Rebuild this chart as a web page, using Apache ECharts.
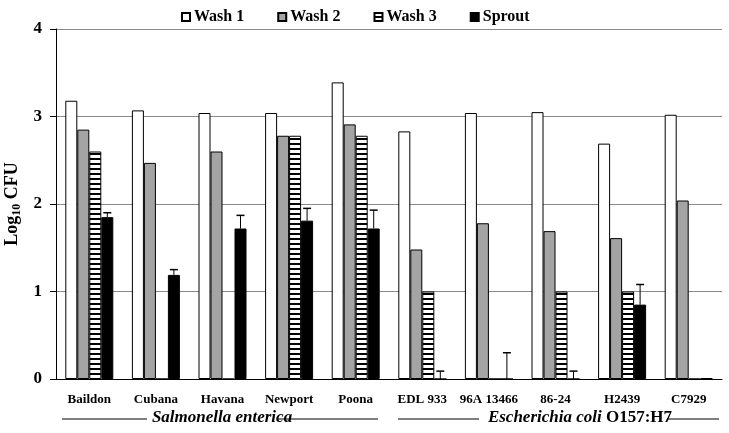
<!DOCTYPE html>
<html><head><meta charset="utf-8">
<script src="https://cdn.jsdelivr.net/npm/echarts@6/dist/echarts.min.js"></script>
<style>html,body{margin:0;padding:0;background:#fff}#c{width:729px;height:433px}</style>
</head><body><div id="c"></div>
<script>
var categories = ['Baildon','Cubana','Havana','Newport','Poona','EDL 933','96A 13466','86-24','H2439','C7929'];
var wash1  = [3.18,3.07,3.04,3.04,3.39,2.83,3.04,3.05,2.69,3.02];
var wash2  = [2.85,2.47,2.60,2.78,2.91,1.48,1.78,1.69,1.61,2.04];
var wash3  = [2.60,0,0,2.78,2.78,1.00,0,1.00,1.00,0];
var sprout = [1.85,1.19,1.72,1.81,1.72,0,0,0,0.85,0.01];
var sproutErrTop = [1.90,1.25,1.87,1.95,1.93,0.09,0.30,0.09,1.08,0.01];
var yTicks = [0,1,2,3,4];

var FONT = '"Liberation Serif","Times New Roman",serif';
var BW = 12;

function stripe(){
  var c = document.createElement('canvas'); c.width = 8; c.height = 5;
  var g = c.getContext('2d'); g.fillStyle = '#fff'; g.fillRect(0,0,8,5);
  g.fillStyle = '#000'; g.fillRect(0,3,8,2);
  return {image:c, repeat:'repeat'};
}
var stripeFill = stripe();

var chart = echarts.init(document.getElementById('c'));
var barBase = {type:'bar', barWidth:BW, barGap:'0%', barCategoryGap:'28%'};
chart.setOption({
  animation:false,
  backgroundColor:'#fff',
  legend:{top:4, left:176, itemWidth:8, itemHeight:8, itemGap:33, icon:'rect',
    textStyle:{fontFamily:FONT, fontWeight:'bold', fontSize:16, color:'#000', padding:[0,0,0,-1]},
    data:['Wash 1','Wash 2','Wash 3','Sprout']},
  grid:{left:56, right:7, top:29, bottom:54, containLabel:false, outerBoundsMode:'none'},
  xAxis:{type:'category', data:categories,
    axisLine:{lineStyle:{color:'#000', width:1}},
    axisTick:{length:5, lineStyle:{color:'#000'}},
    axisLabel:{fontFamily:FONT, fontWeight:'bold', fontSize:13, color:'#000', margin:14, interval:0}},
  yAxis:{type:'value', min:yTicks[0], max:yTicks[yTicks.length-1], interval:1,
    name:'{a|Log}{s|10}{a| CFU}', nameLocation:'middle', nameGap:33, nameRotate:90,
    nameTextStyle:{rich:{a:{fontFamily:FONT, fontWeight:'bold', fontSize:18, color:'#000'},
      s:{fontFamily:FONT, fontWeight:'bold', fontSize:12, color:'#000', padding:[9,0,0,0]}}},
    axisLine:{show:true, lineStyle:{color:'#000'}},
    axisTick:{show:true, length:6, lineStyle:{color:'#000'}},
    splitLine:{show:true, showMinLine:false, showMaxLine:true, lineStyle:{color:'#8a8a8a', width:1}},
    axisLabel:{fontFamily:FONT, fontWeight:'bold', fontSize:17, color:'#000', margin:14}},
  series:[
    Object.assign({}, barBase, {name:'Wash 1', data:wash1, itemStyle:{color:'#fff', borderColor:'#000', borderWidth:1}}),
    Object.assign({}, barBase, {name:'Wash 2', data:wash2, itemStyle:{color:'#a4a4a4', borderColor:'#000', borderWidth:1}}),
    Object.assign({}, barBase, {name:'Wash 3', data:wash3, itemStyle:{color:stripeFill, borderColor:'#000', borderWidth:1}}),
    Object.assign({}, barBase, {name:'Sprout', data:sprout, itemStyle:{color:'#000', borderColor:'#000', borderWidth:1}}),
    {type:'custom', name:'err', z:4, silent:true,
      data:sprout.map(function(v,i){return [i, v, sproutErrTop[i]];}),
      renderItem:function(params, api){
        var i = api.value(0);
        var p0 = api.coord([i, api.value(1)]);
        var p1 = api.coord([i, api.value(2)]);
        var x = p0[0] + 1.5*BW;
        if (api.value(2) - api.value(1) < 0.02) return null;
        return {type:'group', children:[
          {type:'line', shape:{x1:x, y1:p0[1], x2:x, y2:p1[1]}, style:{stroke:'#000', lineWidth:1}},
          {type:'line', shape:{x1:x-4, y1:p1[1], x2:x+4, y2:p1[1]}, style:{stroke:'#000', lineWidth:1.5}}
        ]};
      }}
  ]
});

// group annotations under the axis
var y = 419;
var lineStyle = {stroke:'#000', lineWidth:1.2};
chart.setOption({graphic:[
  {type:'line', shape:{x1:62, y1:y, x2:147, y2:y}, style:lineStyle},
  {type:'line', shape:{x1:278, y1:y, x2:378, y2:y}, style:lineStyle},
  {type:'text', x:222, y:y-1, style:{text:'Salmonella enterica', font:'italic bold 17px '+FONT, fill:'#000', align:'center', verticalAlign:'middle'}},
  {type:'line', shape:{x1:398, y1:y, x2:479, y2:y}, style:lineStyle},
  {type:'line', shape:{x1:667, y1:y, x2:719, y2:y}, style:lineStyle},
  {type:'text', x:580, y:y-1, style:{text:'{i|Escherichia coli }{b|O157:H7}', align:'center', verticalAlign:'middle',
    rich:{i:{font:'italic bold 17px '+FONT, fill:'#000'}, b:{font:'bold 17px '+FONT, fill:'#000'}}}}
]});
</script></body></html>
